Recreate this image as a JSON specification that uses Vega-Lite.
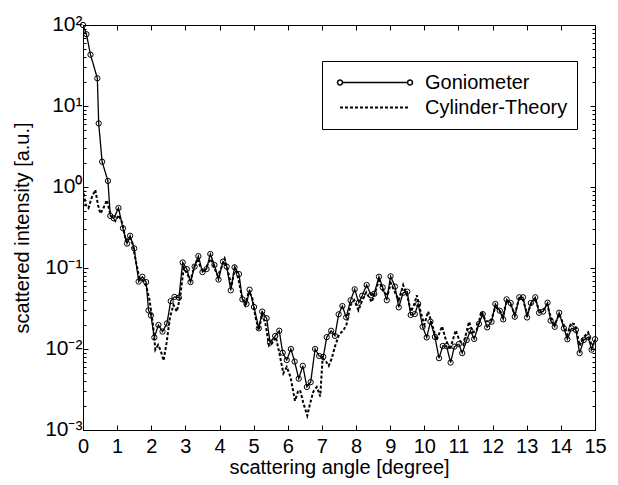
{
"$schema": "https://vega.github.io/schema/vega-lite/v6.json",
"width": 512, "height": 405,
"autosize": "none",
"padding": {"left": 83, "top": 25, "right": 23, "bottom": 55},
"config": {"font": "Liberation Sans", "view": {"stroke": "black", "strokeWidth": 1},
  "axis": {"domainColor": "black", "tickColor": "black", "labelColor": "black", "titleColor": "black", "grid": false, "labelFont": "Liberation Sans", "titleFont": "Liberation Sans", "titleFontWeight": "normal", "labelFontSize": 20, "titleFontSize": 20, "labelOverlap": false, "labelFlush": false}},
"datasets": {
"gonio": [
{"angle":0,"intensity":100},{"angle":0.1,"intensity":77},{"angle":0.22,"intensity":43},{"angle":0.42,"intensity":22},{"angle":0.46,"intensity":6.1},{"angle":0.56,"intensity":2.05},{"angle":0.73,"intensity":1.19},{"angle":0.8,"intensity":0.44},{"angle":0.9,"intensity":0.41},{"angle":1.04,"intensity":0.55},{"angle":1.17,"intensity":0.31},{"angle":1.29,"intensity":0.2},{"angle":1.38,"intensity":0.25},{"angle":1.5,"intensity":0.175},{"angle":1.63,"intensity":0.068},{"angle":1.74,"intensity":0.078},{"angle":1.85,"intensity":0.067},{"angle":1.92,"intensity":0.03},{"angle":1.99,"intensity":0.026},{"angle":2.09,"intensity":0.0139},{"angle":2.21,"intensity":0.0198},{"angle":2.33,"intensity":0.0164},{"angle":2.46,"intensity":0.0207},{"angle":2.57,"intensity":0.039},{"angle":2.68,"intensity":0.044},{"angle":2.81,"intensity":0.043},{"angle":2.92,"intensity":0.117},{"angle":3.04,"intensity":0.097},{"angle":3.15,"intensity":0.067},{"angle":3.27,"intensity":0.104},{"angle":3.38,"intensity":0.14},{"angle":3.5,"intensity":0.089},{"angle":3.62,"intensity":0.097},{"angle":3.73,"intensity":0.149},{"angle":3.85,"intensity":0.109},{"angle":3.97,"intensity":0.072},{"angle":4.1,"intensity":0.12},{"angle":4.21,"intensity":0.104},{"angle":4.33,"intensity":0.053},{"angle":4.44,"intensity":0.102},{"angle":4.57,"intensity":0.084},{"angle":4.67,"intensity":0.041},{"angle":4.79,"intensity":0.036},{"angle":4.88,"intensity":0.054},{"angle":5.01,"intensity":0.033},{"angle":5.15,"intensity":0.018},{"angle":5.25,"intensity":0.029},{"angle":5.38,"intensity":0.024},{"angle":5.48,"intensity":0.012},{"angle":5.63,"intensity":0.0145},{"angle":5.75,"intensity":0.0168},{"angle":5.85,"intensity":0.009},{"angle":5.97,"intensity":0.0073},{"angle":6.09,"intensity":0.01},{"angle":6.2,"intensity":0.007},{"angle":6.32,"intensity":0.0043},{"angle":6.44,"intensity":0.0062},{"angle":6.56,"intensity":0.0034},{"angle":6.67,"intensity":0.0039},{"angle":6.8,"intensity":0.01},{"angle":6.92,"intensity":0.0082},{"angle":7.04,"intensity":0.008},{"angle":7.14,"intensity":0.014},{"angle":7.27,"intensity":0.0168},{"angle":7.38,"intensity":0.0145},{"angle":7.49,"intensity":0.0268},{"angle":7.6,"intensity":0.0339},{"angle":7.71,"intensity":0.0246},{"angle":7.84,"intensity":0.04},{"angle":7.96,"intensity":0.0546},{"angle":8.08,"intensity":0.0373},{"angle":8.18,"intensity":0.0455},{"angle":8.31,"intensity":0.0616},{"angle":8.44,"intensity":0.046},{"angle":8.53,"intensity":0.048},{"angle":8.67,"intensity":0.078},{"angle":8.78,"intensity":0.0575},{"angle":8.9,"intensity":0.04},{"angle":9.01,"intensity":0.079},{"angle":9.14,"intensity":0.059},{"angle":9.25,"intensity":0.0327},{"angle":9.38,"intensity":0.0495},{"angle":9.5,"intensity":0.051},{"angle":9.6,"intensity":0.0263},{"angle":9.72,"intensity":0.027},{"angle":9.82,"intensity":0.036},{"angle":9.95,"intensity":0.0188},{"angle":10.07,"intensity":0.0139},{"angle":10.18,"intensity":0.0217},{"angle":10.31,"intensity":0.0141},{"angle":10.43,"intensity":0.0077},{"angle":10.54,"intensity":0.0109},{"angle":10.65,"intensity":0.0109},{"angle":10.77,"intensity":0.0068},{"angle":10.88,"intensity":0.0107},{"angle":11.01,"intensity":0.0115},{"angle":11.11,"intensity":0.0089},{"angle":11.24,"intensity":0.0129},{"angle":11.35,"intensity":0.0168},{"angle":11.46,"intensity":0.0133},{"angle":11.6,"intensity":0.0204},{"angle":11.71,"intensity":0.027},{"angle":11.84,"intensity":0.0185},{"angle":11.97,"intensity":0.0217},{"angle":12.08,"intensity":0.036},{"angle":12.21,"intensity":0.0297},{"angle":12.31,"intensity":0.0232},{"angle":12.41,"intensity":0.041},{"angle":12.53,"intensity":0.037},{"angle":12.65,"intensity":0.025},{"angle":12.78,"intensity":0.0435},{"angle":12.89,"intensity":0.0435},{"angle":13.01,"intensity":0.0245},{"angle":13.12,"intensity":0.037},{"angle":13.25,"intensity":0.0435},{"angle":13.36,"intensity":0.028},{"angle":13.48,"intensity":0.029},{"angle":13.61,"intensity":0.0373},{"angle":13.7,"intensity":0.0224},{"angle":13.82,"intensity":0.0188},{"angle":13.95,"intensity":0.028},{"angle":14.09,"intensity":0.018},{"angle":14.19,"intensity":0.0132},{"angle":14.31,"intensity":0.018},{"angle":14.44,"intensity":0.0172},{"angle":14.55,"intensity":0.0089},{"angle":14.67,"intensity":0.0129},{"angle":14.8,"intensity":0.014},{"angle":14.9,"intensity":0.0098},{"angle":15,"intensity":0.0132}
],
"theory": [
{"angle":0,"intensity":0.95},{"angle":0.08,"intensity":0.6},{"angle":0.16,"intensity":0.55},{"angle":0.26,"intensity":0.75},{"angle":0.36,"intensity":0.92},{"angle":0.44,"intensity":0.6},{"angle":0.51,"intensity":0.47},{"angle":0.6,"intensity":0.55},{"angle":0.7,"intensity":0.69},{"angle":0.78,"intensity":0.5},{"angle":0.86,"intensity":0.42},{"angle":0.95,"intensity":0.38},{"angle":1.05,"intensity":0.45},{"angle":1.15,"intensity":0.36},{"angle":1.25,"intensity":0.22},{"angle":1.35,"intensity":0.24},{"angle":1.45,"intensity":0.2},{"angle":1.55,"intensity":0.12},{"angle":1.65,"intensity":0.075},{"angle":1.75,"intensity":0.07},{"angle":1.85,"intensity":0.06},{"angle":1.95,"intensity":0.04},{"angle":2.05,"intensity":0.02},{"angle":2.12,"intensity":0.0098},{"angle":2.2,"intensity":0.0112},{"angle":2.28,"intensity":0.0095},{"angle":2.36,"intensity":0.0072},{"angle":2.45,"intensity":0.012},{"angle":2.55,"intensity":0.025},{"angle":2.65,"intensity":0.035},{"angle":2.75,"intensity":0.029},{"angle":2.85,"intensity":0.045},{"angle":2.95,"intensity":0.1},{"angle":3.05,"intensity":0.085},{"angle":3.15,"intensity":0.07},{"angle":3.25,"intensity":0.1},{"angle":3.35,"intensity":0.13},{"angle":3.45,"intensity":0.1},{"angle":3.55,"intensity":0.09},{"angle":3.65,"intensity":0.11},{"angle":3.75,"intensity":0.13},{"angle":3.85,"intensity":0.1},{"angle":3.95,"intensity":0.08},{"angle":4.05,"intensity":0.1},{"angle":4.15,"intensity":0.13},{"angle":4.25,"intensity":0.09},{"angle":4.35,"intensity":0.06},{"angle":4.45,"intensity":0.1},{"angle":4.55,"intensity":0.075},{"angle":4.65,"intensity":0.045},{"angle":4.75,"intensity":0.035},{"angle":4.85,"intensity":0.05},{"angle":4.95,"intensity":0.045},{"angle":5.05,"intensity":0.025},{"angle":5.15,"intensity":0.017},{"angle":5.25,"intensity":0.027},{"angle":5.35,"intensity":0.02},{"angle":5.45,"intensity":0.011},{"angle":5.55,"intensity":0.012},{"angle":5.65,"intensity":0.014},{"angle":5.75,"intensity":0.009},{"angle":5.87,"intensity":0.005},{"angle":5.97,"intensity":0.006},{"angle":6.08,"intensity":0.0045},{"angle":6.21,"intensity":0.0023},{"angle":6.3,"intensity":0.003},{"angle":6.36,"intensity":0.0031},{"angle":6.45,"intensity":0.0022},{"angle":6.57,"intensity":0.0015},{"angle":6.65,"intensity":0.0021},{"angle":6.75,"intensity":0.003},{"angle":6.85,"intensity":0.0034},{"angle":6.95,"intensity":0.0026},{"angle":7.02,"intensity":0.0077},{"angle":7.12,"intensity":0.007},{"angle":7.2,"intensity":0.0062},{"angle":7.29,"intensity":0.0077},{"angle":7.38,"intensity":0.0107},{"angle":7.5,"intensity":0.015},{"angle":7.63,"intensity":0.017},{"angle":7.72,"intensity":0.02},{"angle":7.84,"intensity":0.035},{"angle":7.95,"intensity":0.04},{"angle":8.07,"intensity":0.03},{"angle":8.18,"intensity":0.04},{"angle":8.3,"intensity":0.05},{"angle":8.46,"intensity":0.038},{"angle":8.56,"intensity":0.05},{"angle":8.67,"intensity":0.07},{"angle":8.8,"intensity":0.051},{"angle":8.92,"intensity":0.046},{"angle":9.02,"intensity":0.065},{"angle":9.14,"intensity":0.05},{"angle":9.25,"intensity":0.04},{"angle":9.38,"intensity":0.0617},{"angle":9.5,"intensity":0.045},{"angle":9.61,"intensity":0.029},{"angle":9.7,"intensity":0.035},{"angle":9.78,"intensity":0.046},{"angle":9.88,"intensity":0.03},{"angle":10,"intensity":0.02},{"angle":10.11,"intensity":0.029},{"angle":10.2,"intensity":0.022},{"angle":10.36,"intensity":0.0129},{"angle":10.52,"intensity":0.019},{"angle":10.63,"intensity":0.013},{"angle":10.75,"intensity":0.0098},{"angle":10.92,"intensity":0.017},{"angle":11.02,"intensity":0.013},{"angle":11.14,"intensity":0.0113},{"angle":11.31,"intensity":0.0217},{"angle":11.42,"intensity":0.016},{"angle":11.53,"intensity":0.017},{"angle":11.68,"intensity":0.029},{"angle":11.8,"intensity":0.022},{"angle":11.95,"intensity":0.022},{"angle":12.08,"intensity":0.033},{"angle":12.2,"intensity":0.03},{"angle":12.3,"intensity":0.025},{"angle":12.42,"intensity":0.04},{"angle":12.53,"intensity":0.035},{"angle":12.65,"intensity":0.027},{"angle":12.78,"intensity":0.042},{"angle":12.9,"intensity":0.04},{"angle":13.01,"intensity":0.027},{"angle":13.13,"intensity":0.036},{"angle":13.25,"intensity":0.042},{"angle":13.36,"intensity":0.03},{"angle":13.48,"intensity":0.03},{"angle":13.6,"intensity":0.035},{"angle":13.7,"intensity":0.025},{"angle":13.82,"intensity":0.02},{"angle":13.95,"intensity":0.027},{"angle":14.08,"intensity":0.02},{"angle":14.19,"intensity":0.015},{"angle":14.3,"intensity":0.021},{"angle":14.42,"intensity":0.02},{"angle":14.55,"intensity":0.011},{"angle":14.67,"intensity":0.014},{"angle":14.8,"intensity":0.016},{"angle":14.9,"intensity":0.011},{"angle":15,"intensity":0.012}
]},
"resolve": {"axis": {"x": "independent", "y": "independent"}},
"layer": [
{
 "encoding": {
    "x": {"field": "angle", "type": "quantitative", "scale": {"domain": [0, 15], "nice": false, "zero": false},
      "axis": {"orient": "bottom", "values": [0,1,2,3,4,5,6,7,8,9,10,11,12,13,14,15], "tickSize": -5, "labelPadding": 11, "labelFontSize": 20, "labelOverlap": false, "labelFlush": false, "labelBound": false, "title": "scattering angle [degree]", "titlePadding": 1}},
    "y": {"field": "intensity", "type": "quantitative", "scale": {"type": "log", "domain": [0.001, 100], "nice": false},
      "axis": {"orient": "left", "values": [0.001,0.002,0.003,0.004,0.005,0.006,0.007,0.008,0.009,0.01,0.02,0.03,0.04,0.05,0.06,0.07,0.08,0.09,0.1,0.2,0.3,0.4,0.5,0.6,0.7,0.8,0.9,1,2,3,4,5,6,7,8,9,10,20,30,40,50,60,70,80,90,100],
        "tickSize": {"condition": {"test": "abs(log(datum.value)/LN10 - round(log(datum.value)/LN10)) < 0.001", "value": -5}, "value": -3},
        "labelExpr": "abs(log(datum.value)/LN10 - round(log(datum.value)/LN10)) < 0.001 ? '10' + ['⁻³','⁻²','⁻¹','⁰','¹','²'][round(log(datum.value)/LN10) + 3] : ''",
        "labelFontSize": 21, "labelOverlap": false, "labelFlush": false, "labelBaseline": "alphabetic", "labelOffset": 5,
        "labelPadding": 6, "title": "scattered intensity [a.u.]", "titlePadding": 12}},
    "strokeDash": {"field": "series", "type": "nominal", "scale": {"domain": ["Goniometer", "Cylinder-Theory"], "range": [[1, 0], [3, 2]]},
      "legend": {"orient": "none", "legendX": 239, "legendY": 36, "title": null, "strokeColor": "black", "fillColor": "white", "padding": 9,
        "symbolSize": 4900, "clipHeight": 25, "symbolOffset": 34, "labelOffset": 40, "labelFontSize": 20, "labelFont": "Liberation Sans", "labelColor": "black",
        "symbolStrokeColor": "black", "symbolFillColor": "transparent", "rowPadding": 0,
        "encode": {"symbols": {"update": {
          "shape": {"signal": "datum.value === 'Goniometer' ? 'M-0.93,0L0.93,0M-1.07,0A0.07,0.07,0,1,0,-0.93,0A0.07,0.07,0,1,0,-1.07,0M0.93,0A0.07,0.07,0,1,0,1.07,0A0.07,0.07,0,1,0,0.93,0' : 'M-1,0L1,0'"},
          "strokeWidth": {"signal": "datum.value === 'Goniometer' ? 1.5 : 2"}}}}}}
 },
 "layer": [
  {"data": {"name": "theory"}, "transform": [{"calculate": "'Cylinder-Theory'", "as": "series"}],
   "mark": {"type": "line", "color": "black", "strokeWidth": 2, "clip": true}},
  {"data": {"name": "gonio"}, "transform": [{"calculate": "'Goniometer'", "as": "series"}],
   "mark": {"type": "line", "color": "black", "strokeWidth": 1.3, "clip": true}}
 ]
},
{"data": {"name": "gonio"},
 "mark": {"type": "point", "shape": "circle", "filled": false, "color": "black", "size": 28, "strokeWidth": 1, "opacity": 1, "clip": false},
 "encoding": {
  "x": {"field": "angle", "type": "quantitative", "axis": {"orient": "top", "values": [0,1,2,3,4,5,6,7,8,9,10,11,12,13,14,15], "tickSize": -5, "labels": false, "title": null}},
  "y": {"field": "intensity", "type": "quantitative",
    "axis": {"orient": "right", "values": [0.001,0.002,0.003,0.004,0.005,0.006,0.007,0.008,0.009,0.01,0.02,0.03,0.04,0.05,0.06,0.07,0.08,0.09,0.1,0.2,0.3,0.4,0.5,0.6,0.7,0.8,0.9,1,2,3,4,5,6,7,8,9,10,20,30,40,50,60,70,80,90,100],
      "tickSize": {"condition": {"test": "abs(log(datum.value)/LN10 - round(log(datum.value)/LN10)) < 0.001", "value": -5}, "value": -3},
      "labels": false, "title": null}}
 }}
]
}
